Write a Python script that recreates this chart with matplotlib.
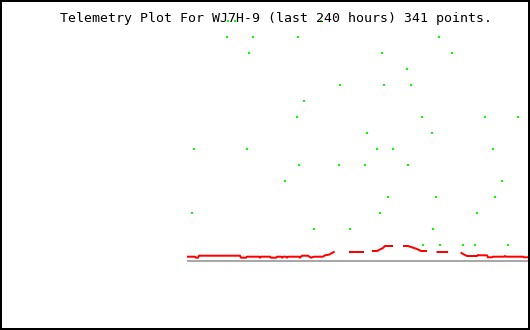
import numpy as np
import matplotlib
matplotlib.use("Agg")
import matplotlib.pyplot as plt
from matplotlib.patches import Rectangle
from matplotlib.path import Path

title = "Telemetry Plot For WJ7H-9 (last 240 hours) 341 points."

# Analog channel (red), hours since start of window, value (NaN = gap)
red_hours = [0.0, 4.9, 5.6, 7.0, 7.7, 36.5, 37.2, 40.7, 41.4, 49.8, 50.5, 51.2,
             57.5, 58.2, 61.8, 62.5, 65.3, 66.0, 66.7, 68.8, 69.5, 70.2, 77.9,
             78.6, 79.3, 80.0, 84.2, 86.3, 88.4, 94.7, 96.1, 98.9, 101.1, 102.3,
             108.0,
             113.7, 122.8,
             126.0,
             129.8, 132.6, 134.7, 136.8, 138.2, 143.2,
             147.0,
             151.6, 154.4, 156.5, 158.6, 160.7, 162.8, 163.5, 167.0,
             171.0,
             175.1, 181.8,
             186.0,
             191.9, 193.0, 194.4, 195.8, 202.8, 203.5, 204.2, 209.8, 210.5,
             213.3, 214.0, 221.8, 222.5, 223.2, 235.1, 235.8, 239.3]
red_values = [4.3, 4.3, 3.3, 3.3, 5.3, 5.3, 3.3, 3.3, 4.3, 4.3, 3.3, 4.3,
              4.3, 3.3, 3.3, 4.3, 4.3, 3.3, 4.3, 4.3, 3.3, 4.3, 4.3,
              3.3, 4.3, 5.3, 5.3, 3.3, 4.3, 4.3, 5.7, 6.3, 8.0, 9.0,
              np.nan,
              9.0, 9.0,
              np.nan,
              10.0, 10.0, 11.5, 13.0, 15.0, 15.0,
              np.nan,
              15.0, 15.0, 14.0, 13.0, 12.0, 10.5, 10.0, 10.0,
              np.nan,
              9.0, 9.0,
              np.nan,
              8.0, 7.0, 6.0, 5.0, 5.0, 6.0, 5.7, 5.7, 3.7,
              3.7, 4.3, 4.3, 5.0, 4.3, 4.3, 3.7, 3.7]

# Digital bits (green): hour and level (1..15)
green_hours = [28.4, 33.0, 93.3,
               27.2, 45.8, 77.4, 176.4,
               43.0, 136.4, 185.5,
               153.9,
               106.9, 137.8, 156.7,
               81.6,
               76.7, 164.4, 208.6, 231.8,
               125.8, 171.4,
               4.4, 41.6, 132.8, 144.1, 214.2,
               78.1, 106.0, 124.4, 154.6,
               68.3, 220.6,
               140.6, 174.2, 215.6,
               3.0, 134.9, 203.0,
               88.6, 113.9, 172.1,
               165.1, 177.1, 193.2, 201.6, 224.8]
green_levels = [15, 15, 15,
                14, 14, 14, 14,
                13, 13, 13,
                12,
                11, 11, 11,
                10,
                9, 9, 9, 9,
                8, 8,
                7, 7, 7, 7, 7,
                6, 6, 6, 6,
                5, 5,
                4, 4, 4,
                3, 3, 3,
                2, 2, 2,
                1, 1, 1, 1, 1]

W, H = 530, 330
fig = plt.figure(figsize=(W / 100, H / 100), dpi=100)
fig.patch.set_facecolor("white")

ax = fig.add_axes([188 / W, 69 / H, 342 / W, 261 / H])
ax.set_xlim(0, 240)
ax.set_ylim(0, 261)
ax.axis("off")

px = 0.72  # one pixel in points

ax.axhline(0, color="#a8a8a8", lw=2 * px, clip_on=False, zorder=1)

ax.plot(red_hours, red_values, color="#ff0000", lw=2 * px,
        solid_capstyle="projecting", zorder=3, clip_on=False)

bar_marker = Path([(-0.3, -0.5), (0.3, -0.5), (0.3, 0.5), (-0.3, 0.5), (-0.3, -0.5)],
                  [Path.MOVETO, Path.LINETO, Path.LINETO, Path.LINETO, Path.CLOSEPOLY])
green_y = [16 * k for k in green_levels]
ax.plot(green_hours, green_y, linestyle="none", marker=bar_marker,
        markersize=2.4 * px, markerfacecolor="#00ff00", markeredgewidth=0,
        antialiased=False, zorder=4, clip_on=False)

fig.text(59.5 / W, 1 - 22 / H, title, family="DejaVu Sans Mono", fontsize=9.58,
         color="black", ha="left", va="baseline", zorder=1)

fig.patches.append(Rectangle((1 / W, 1 / H), (W - 2) / W, (H - 2) / H,
                             transform=fig.transFigure, fill=False,
                             edgecolor="black", lw=2 * px))

fig.savefig("out.png", dpi=100, facecolor="white")
